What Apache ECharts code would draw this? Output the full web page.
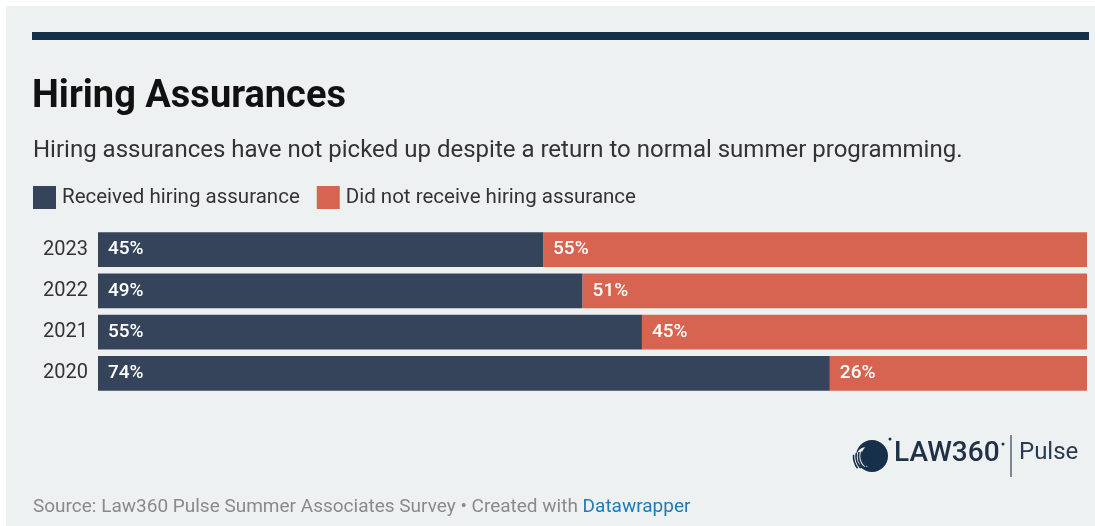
<!DOCTYPE html>
<html>
<head>
<meta charset="utf-8">
<script src="https://cdn.jsdelivr.net/npm/echarts@6/dist/echarts.min.js"></script>
<style>
html,body{margin:0;padding:0;background:#fff;}
#c{width:1095px;height:526px;}
</style>
</head>
<body>
<div id="c"></div>
<script>
const years = ['2023', '2022', '2021', '2020'];
const received = [45, 49, 55, 74];
const notReceived = [55, 51, 45, 26];
const seriesNames = ['Received hiring assurance', 'Did not receive hiring assurance'];

const chart = echarts.init(document.getElementById('c'));
const FONT = 'Roboto, "Noto Sans", sans-serif';
const label = {
  show: true, position: 'insideLeft', distance: 10,
  color: '#fff', fontSize: 19, fontFamily: FONT, fontWeight: 500,
  formatter: p => p.value + '%'
};
const arcs = [];
[[13, 2.2, 3.5], [15.5, 2.3, 3.4], [18, 2.4, 3.3], [20.5, 2.5, 3.2]].forEach(([r, a0, a1]) => {
  arcs.push({ type: 'arc', shape: { cx: 874, cy: 456, r: r, startAngle: a0, endAngle: a1 }, style: { stroke: '#17304a', lineWidth: 1.6, fill: null } });
});
chart.setOption({
  backgroundColor: '#ffffff',
  animation: false,
  textStyle: { fontFamily: FONT },
  graphic: [
    { type: 'rect', z: -10, shape: { x: 6, y: 6, width: 1089, height: 520 }, style: { fill: '#eef1f2' } },
    { type: 'rect', shape: { x: 32, y: 32, width: 1057, height: 8 }, style: { fill: '#16304a' } },
    { type: 'text', left: 32, top: 78, style: { text: 'Hiring Assurances', font: 'bold 38px ' + FONT, fill: '#111111' } },
    { type: 'text', left: 33, top: 139, style: { text: 'Hiring assurances have not picked up despite a return to normal summer programming.', font: '24px ' + FONT, fill: '#333333' } },
    // logo
    { type: 'circle', shape: { cx: 872, cy: 456, r: 16 }, style: { fill: '#17304a' } },
    { type: 'circle', shape: { cx: 866, cy: 457, r: 10 }, style: { fill: '#eef1f2' } },
    { type: 'circle', shape: { cx: 874, cy: 456, r: 12.5 }, style: { fill: '#17304a' } },
    ...arcs,
    { type: 'circle', shape: { cx: 890, cy: 439, r: 1.5 }, style: { fill: '#17304a' } },
    { type: 'text', left: 894, top: 440, style: { text: 'LAW360', font: '500 28px ' + FONT, fill: '#1f3047' } },
    { type: 'circle', shape: { cx: 1003, cy: 444, r: 1.5 }, style: { fill: '#1f3047' } },
    { type: 'line', shape: { x1: 1011, y1: 435, x2: 1011, y2: 477 }, style: { stroke: '#5b6573', lineWidth: 1.5 } },
    { type: 'text', left: 1019, top: 441, style: { text: 'Pulse', font: '24px ' + FONT, fill: '#2a3a50' } },
    { type: 'text', left: 33, top: 498, style: {
        text: '{a|Source: Law360 Pulse Summer Associates Survey • Created with }{b|Datawrapper}',
        rich: { a: { fontSize: 19, fontFamily: FONT, fill: '#8a8a8a' }, b: { fontSize: 19, fontFamily: FONT, fill: '#1f7bb5' } }
    } }
  ],
  legend: {
    left: 28, top: 181, itemWidth: 23, itemHeight: 23, itemGap: 17,
    icon: 'rect',
    textStyle: { fontSize: 20.5, color: '#333', fontFamily: FONT, padding: [0, 0, 0, 1] },
    data: seriesNames
  },
  grid: { left: 98, right: 8, top: 229, height: 165, containLabel: false },
  xAxis: { type: 'value', min: 0, max: 100, show: false },
  yAxis: {
    type: 'category', data: years, inverse: true,
    axisLine: { show: false }, axisTick: { show: false }, splitLine: { show: false },
    axisLabel: { color: '#333', fontSize: 20, fontFamily: FONT, margin: 10 }
  },
  series: [
    { name: seriesNames[0], type: 'bar', stack: 's', data: received, barCategoryGap: '16%', itemStyle: { color: '#35445a' }, label },
    { name: seriesNames[1], type: 'bar', stack: 's', data: notReceived, itemStyle: { color: '#d76450' }, label }
  ]
});
</script>
</body>
</html>
